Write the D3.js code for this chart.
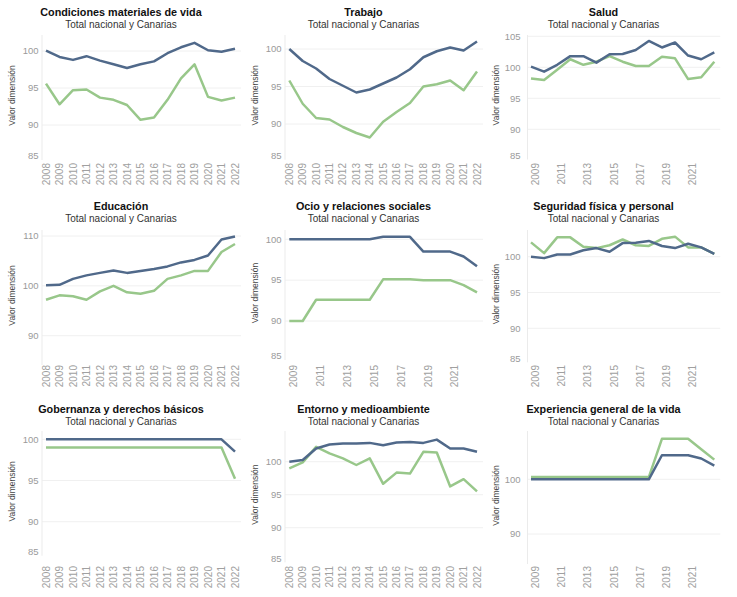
<!DOCTYPE html>
<html>
<head>
<meta charset="utf-8">
<script src="https://cdn.jsdelivr.net/npm/d3@7.9.0/dist/d3.min.js"></script>
<style>
  body { margin: 0; background: #fff; }
  svg { font-family: "Liberation Sans", Arial, sans-serif; display: block; }
</style>
</head>
<body>
<svg id="chart" width="737" height="597"></svg>
<script>
const years = [2008, 2009, 2010, 2011, 2012, 2013, 2014, 2015, 2016, 2017, 2018, 2019, 2020, 2021, 2022];
const oddYears = [2009, 2011, 2013, 2015, 2017, 2019, 2021];

const condicionesNacional = [100.05, 99.2, 98.8, 99.3, 98.7, 98.2, 97.7, 98.2, 98.6, 99.7, 100.5, 101.1, 100.1, 99.9, 100.3];
const condicionesCanarias = [95.6, 92.8, 94.7, 94.8, 93.7, 93.4, 92.7, 90.7, 91.0, 93.4, 96.3, 98.2, 93.8, 93.3, 93.7];

const trabajoNacional = [100, 98.4, 97.4, 96.0, 95.1, 94.2, 94.6, 95.4, 96.2, 97.3, 98.9, 99.7, 100.2, 99.8, 101.0];
const trabajoCanarias = [95.8, 92.7, 90.8, 90.6, 89.6, 88.8, 88.2, 90.3, 91.6, 92.8, 95.0, 95.3, 95.8, 94.5, 97.0];

const saludNacional = [100.1, 99.3, 100.4, 101.8, 101.8, 100.75, 102.1, 102.15, 102.8, 104.25, 103.2, 104.0, 101.9, 101.3, 102.4];
const saludCanarias = [98.2, 97.95, 99.6, 101.3, 100.4, 100.9, 101.8, 100.9, 100.2, 100.2, 101.7, 101.45, 98.1, 98.4, 100.9];

const educacionNacional = [100.1, 100.2, 101.4, 102.1, 102.6, 103.1, 102.6, 103.0, 103.4, 103.9, 104.7, 105.2, 106.1, 109.3, 109.9];
const educacionCanarias = [97.2, 98.1, 97.9, 97.2, 98.9, 100.0, 98.7, 98.4, 99.0, 101.4, 102.1, 103.0, 103.0, 106.8, 108.4];

const ocioNacional = [100, 100, 100, 100, 100, 100, 100, 100.3, 100.3, 100.3, 98.5, 98.5, 98.5, 97.9, 96.7];
const ocioCanarias = [90, 90, 92.6, 92.6, 92.6, 92.6, 92.6, 95.1, 95.1, 95.1, 95.0, 95.0, 95.0, 94.4, 93.5];

const seguridadNacional = [100.0, 99.8, 100.3, 100.3, 100.9, 101.2, 100.7, 101.9, 101.95, 102.2, 101.5, 101.2, 101.8, 101.3, 100.4];
const seguridadCanarias = [102.0, 100.5, 102.7, 102.7, 101.4, 101.2, 101.6, 102.4, 101.6, 101.5, 102.5, 102.8, 101.3, 101.3, 100.4];

const gobernanzaNacional = [100, 100, 100, 100, 100, 100, 100, 100, 100, 100, 100, 100, 100, 100, 98.5];
const gobernanzaCanarias = [99.0, 99.0, 99.0, 99.0, 99.0, 99.0, 99.0, 99.0, 99.0, 99.0, 99.0, 99.0, 99.0, 99.0, 95.2];

const entornoNacional = [100, 100.25, 102.0, 102.6, 102.75, 102.75, 102.85, 102.5, 102.9, 103.0, 102.85, 103.35, 102.0, 102.0, 101.5];
const entornoCanarias = [99.0, 99.9, 102.25, 101.25, 100.5, 99.5, 100.5, 96.65, 98.35, 98.2, 101.5, 101.4, 96.25, 97.35, 95.5];

const experienciaNacional = [100, 100, 100, 100, 100, 100, 100, 100, 100, 100, 104.4, 104.4, 104.4, 103.8, 102.5];
const experienciaCanarias = [100.4, 100.4, 100.4, 100.4, 100.4, 100.4, 100.4, 100.4, 100.4, 100.4, 107.4, 107.4, 107.4, 105.5, 103.6];

const titles = ['Condiciones materiales de vida', 'Trabajo', 'Salud', 'Educación', 'Ocio y relaciones sociales',
  'Seguridad física y personal', 'Gobernanza y derechos básicos', 'Entorno y medioambiente', 'Experiencia general de la vida'];
const subtitle = 'Total nacional y Canarias';
const yLabel = 'Valor dimensión';

const colorNacional = '#50698a';
const colorCanarias = '#98c78a';

// layout of the 3x3 grid
const cols = [
  { left: 42, px0: 46, px1: 235, tickX: 38.5, yTitleX: 12, center: 121 },
  { left: 285, px0: 289.3, px1: 477, tickX: 281.5, yTitleX: 255, center: 363.5 },
  { left: 527.5, px0: 531, px1: 714.3, tickX: 520.5, yTitleX: 496, center: 603.5 }
];
const rows = [
  { titleY: 16, subY: 27.5, top: 35, xLabY: 163 },
  { titleY: 210, subY: 221.5, top: 230, xLabY: 365 },
  { titleY: 413, subY: 424.5, top: 431, xLabY: 566 }
];

const panels = [
  { nac: condicionesNacional, can: condicionesCanarias, ticks: [85, 90, 95, 100], anchor: [100, 51, 90, 125], bottom: 156, alt: false },
  { nac: trabajoNacional, can: trabajoCanarias, ticks: [85, 90, 95, 100], anchor: [100, 49, 90, 124], bottom: 155.7, alt: false },
  { nac: saludNacional, can: saludCanarias, ticks: [85, 90, 95, 100, 105], anchor: [100, 67.3, 90, 129.3], bottom: 155.5, alt: true },
  { nac: educacionNacional, can: educacionCanarias, ticks: [90, 100, 110], anchor: [110, 236, 90, 335.7], bottom: 361, alt: false },
  { nac: ocioNacional, can: ocioCanarias, ticks: [85, 90, 95, 100], anchor: [100, 239.3, 90, 321], bottom: 356, alt: true },
  { nac: seguridadNacional, can: seguridadCanarias, ticks: [85, 90, 95, 100], anchor: [100, 256.7, 90, 328.3], bottom: 358.3, alt: true },
  { nac: gobernanzaNacional, can: gobernanzaCanarias, ticks: [85, 90, 95, 100], anchor: [100, 439.3, 90, 521.7], bottom: 551.7, alt: false },
  { nac: entornoNacional, can: entornoCanarias, ticks: [85, 90, 95, 100], anchor: [100, 461.7, 90, 527.7], bottom: 558.3, alt: false },
  { nac: experienciaNacional, can: experienciaCanarias, ticks: [90, 100], anchor: [100, 479.3, 90, 534], bottom: 560, alt: true }
];

// in the panels with every other year labelled, the points sit part way past the tick
const altShift = 0.65;

const svg = d3.select('#chart');

panels.forEach((p, i) => {
  const c = cols[i % 3];
  const r = rows[Math.floor(i / 3)];
  const g = svg.append('g');

  const shift = p.alt ? altShift : 0;
  const x = d3.scaleLinear()
    .domain([years[0] + shift, years[years.length - 1] + shift])
    .range([c.px0, c.px1]);

  // value scale from two known tick positions, stretched to the plot box
  const [v1, y1, v2, y2] = p.anchor;
  const toV = d3.scaleLinear().domain([y1, y2]).range([v1, v2]);
  const y = d3.scaleLinear()
    .domain([toV(p.bottom), toV(r.top)])
    .range([p.bottom, r.top])
    .clamp(true);

  // grid
  g.selectAll('.grid')
    .data(p.ticks.filter(t => t >= y.domain()[0]))
    .join('line')
    .attr('x1', c.left).attr('x2', c.px1 + 6)
    .attr('y1', d => y(d)).attr('y2', d => y(d))
    .attr('stroke', '#f0f0f0').attr('stroke-width', 1);

  g.append('line')
    .attr('x1', c.left).attr('x2', c.left)
    .attr('y1', r.top).attr('y2', p.bottom + 4)
    .attr('stroke', '#ebebeb');

  // y tick labels
  g.selectAll('.ytick')
    .data(p.ticks)
    .join('text')
    .attr('x', c.tickX)
    .attr('y', d => y(d))
    .attr('dy', '0.35em')
    .attr('text-anchor', 'end')
    .attr('font-size', 9.5)
    .attr('fill', '#9a9a9a')
    .text(d => d);

  // x tick labels
  const xt = p.alt ? oddYears : years;
  g.selectAll('.xtick')
    .data(xt)
    .join('text')
    .attr('transform', d => `translate(${x(d) + 3.5},${r.xLabY}) rotate(-90)`)
    .attr('text-anchor', 'end')
    .attr('font-size', 10)
    .attr('fill', '#a0a0a0')
    .text(d => d);

  g.append('text')
    .attr('transform', `translate(${c.yTitleX + 3},${(r.top + p.bottom) / 2}) rotate(-90)`)
    .attr('text-anchor', 'middle')
    .attr('font-size', 8.5)
    .attr('fill', '#444')
    .text(yLabel);

  g.append('text')
    .attr('x', c.center).attr('y', r.titleY)
    .attr('text-anchor', 'middle')
    .attr('font-size', 10.8)
    .attr('font-weight', 'bold')
    .attr('fill', '#111')
    .text(titles[i]);

  g.append('text')
    .attr('x', c.center).attr('y', r.subY)
    .attr('text-anchor', 'middle')
    .attr('font-size', 10)
    .attr('fill', '#333')
    .text(subtitle);

  const line = d3.line()
    .x((d, k) => x(years[k] + shift))
    .y(d => y(d));

  g.append('path')
    .attr('d', line(p.can))
    .attr('fill', 'none')
    .attr('stroke', colorCanarias)
    .attr('stroke-width', 2.5)
    .attr('stroke-linejoin', 'round');

  g.append('path')
    .attr('d', line(p.nac))
    .attr('fill', 'none')
    .attr('stroke', colorNacional)
    .attr('stroke-width', 2.5)
    .attr('stroke-linejoin', 'round');
});
</script>
</body>
</html>
